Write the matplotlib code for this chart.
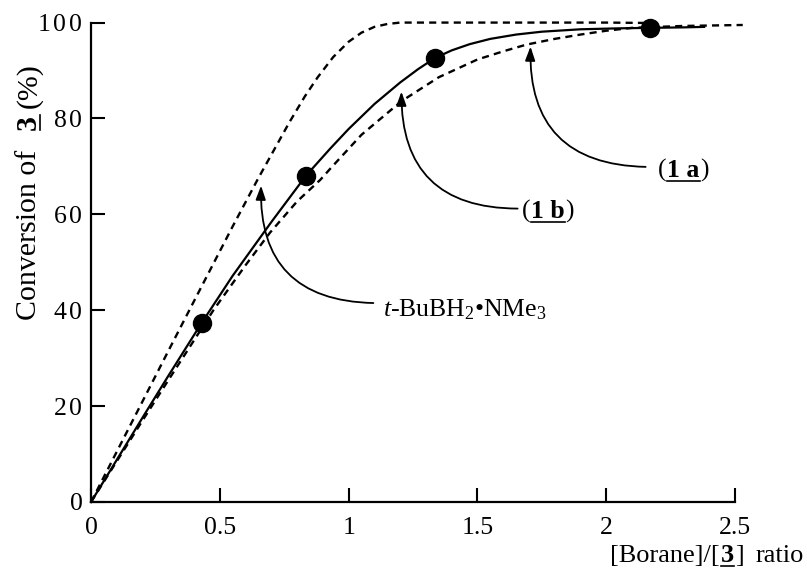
import matplotlib.pyplot as plt
from matplotlib.lines import Line2D

plt.rcParams["font.family"] = ["Liberation Serif", "DejaVu Serif"]
plt.rcParams["mathtext.fontset"] = "custom"
plt.rcParams["mathtext.rm"] = "Liberation Serif"
plt.rcParams["mathtext.it"] = "Liberation Serif:italic"
plt.rcParams["mathtext.bf"] = "Liberation Serif:bold"

# measured points (borane / 3 ratio, conversion %)
exp_x = [0.43, 0.835, 1.335, 2.17]
exp_y = [37.4, 68.1, 92.6, 98.8]

# solid curve through the measured points
fit_x = [0, 0.1, 0.2, 0.3, 0.43, 0.55, 0.7, 0.835, 0.93, 1.0, 1.1, 1.2, 1.27, 1.335,
         1.4, 1.47, 1.55, 1.65, 1.75, 1.9, 2.05, 2.17, 2.3, 2.38]
fit_y = [0, 8.8, 17.6, 26.3, 37.4, 47.2, 58.4, 68.1, 73.8, 77.8, 83.0, 87.5, 90.3, 92.6,
         94.2, 95.5, 96.6, 97.5, 98.1, 98.6, 98.8, 98.9, 99.0, 99.1]

# t-BuBH2.NMe3 (upper dashed)
tbu_x = [0, 0.1, 0.2, 0.3, 0.42, 0.55, 0.65, 0.71, 0.77, 0.83, 0.88, 0.94, 1.0,
         1.05, 1.1, 1.15, 1.2, 1.4, 1.7, 2.0, 2.2]
tbu_y = [0, 10.5, 21.0, 31.5, 44.0, 57.5, 67.6, 73.4, 79.2, 84.6, 88.6, 92.8, 96.0,
         97.9, 99.1, 99.7, 100, 100, 100, 100, 99.9]

# (1a)/(1b) (lower dashed)
cmp_x = [0, 0.1, 0.2, 0.3, 0.475, 0.6, 0.695, 0.8, 0.89, 0.93, 1.05, 1.205, 1.35,
         1.5, 1.6, 1.69, 1.8, 1.9, 2.0, 2.1, 2.3, 2.53]
cmp_y = [0, 8.5, 17.0, 25.4, 40.0, 49.4, 56.2, 62.7, 67.2, 69.6, 76.6, 83.6, 88.6,
         92.3, 94.0, 95.4, 96.6, 97.5, 98.3, 98.9, 99.3, 99.5]

# annotation arrows: (tail, head)
arrows = [
    ((1.096, 41.5), (0.66, 66.0)),
    ((1.656, 61.2), (1.205, 85.6)),
    ((2.153, 69.9), (1.706, 95.0)),
]

x_ticks = [0, 0.5, 1, 1.5, 2, 2.5]
x_labels = ["0", "0.5", "1", "1.5", "2", "2.5"]
y_ticks = [0, 20, 40, 60, 80, 100]
y_labels = ["0", r"$2\,0$", r"$4\,0$", r"$6\,0$", r"$8\,0$", r"$1\,0\,0$"]

W, H = 807, 579
fig = plt.figure(figsize=(W / 100, H / 100), dpi=100)
ax = fig.add_axes([0.1128, 0.133, 0.798, 0.828])

ax.plot(fit_x, fit_y, color="black", lw=1.6, clip_on=False)
ax.plot(tbu_x, tbu_y, color="black", lw=1.7, dashes=(3, 2.2), clip_on=False)
ax.plot(cmp_x, cmp_y, color="black", lw=1.7, dashes=(3, 2.2), clip_on=False)
ax.plot(exp_x, exp_y, "o", color="black", ms=13, clip_on=False)

for tail, head in arrows:
    ax.annotate("", xy=head, xytext=tail,
                arrowprops=dict(arrowstyle="-|>,head_length=0.7,head_width=0.25",
                                connectionstyle="arc3,rad=-0.5",
                                color="black", lw=1.3, shrinkA=0, shrinkB=0,
                                mutation_scale=12))

ax.text(1.135, 38.7, r"$\mathit{t}$-BuBH$_2$•NMe$_3$", fontsize=18.5,
        va="baseline", ha="left")

ax.set_xlim(0, 2.5)
ax.set_ylim(0, 100)
ax.set_xticks(x_ticks)
ax.set_xticklabels(x_labels)
ax.set_yticks(y_ticks)
ax.set_yticklabels(y_labels)
ax.spines["top"].set_visible(False)
ax.spines["right"].set_visible(False)
ax.spines["left"].set_linewidth(1.6)
ax.spines["bottom"].set_linewidth(1.6)
ax.tick_params(axis="both", direction="in", length=10, width=1.5, labelsize=18.5)
ax.tick_params(axis="x", pad=11)
ax.tick_params(axis="y", pad=6)

renderer = fig.canvas.get_renderer()


def write_parts(x, y, parts, size, rot=0):
    # x, y: start of baseline in pixels from bottom-left
    # parts: (text, bold, underline, gap after in px)
    for s, bold, ul, gap in parts:
        t = fig.text(x / W, y / H, s, fontsize=size, rotation=rot,
                     rotation_mode="anchor", ha="left", va="baseline",
                     fontweight="bold" if bold else "normal")
        bb = t.get_window_extent(renderer)
        n = bb.height if rot else bb.width
        if ul:
            if rot:
                xs, ys = [(x + 3.5) / W] * 2, [y / H, (y + n) / H]
            else:
                xs, ys = [x / W, (x + n) / W], [(y - 3.5) / H] * 2
            fig.add_artist(Line2D(xs, ys, transform=fig.transFigure,
                                  color="black", lw=1.2))
        if rot:
            y += n + gap
        else:
            x += n + gap


write_parts(36, H - 320, [("Conversion of", False, False, 20),
                          ("3", True, True, 7),
                          ("(%)", False, False, 0)], 21.5, rot=90)
write_parts(610, H - 562, [("[Borane]/[", False, False, 1),
                           ("3", True, True, 1),
                           ("]", False, False, 12),
                           ("ratio", False, False, 0)], 19)
write_parts(522, H - 218, [("(", False, False, 0.5),
                           ("1 b", True, True, 0.5),
                           (")", False, False, 0)], 18.5)
write_parts(658, H - 177, [("(", False, False, 0.5),
                           ("1 a", True, True, 0.5),
                           (")", False, False, 0)], 18.5)

fig.savefig("out.png", dpi=100)
